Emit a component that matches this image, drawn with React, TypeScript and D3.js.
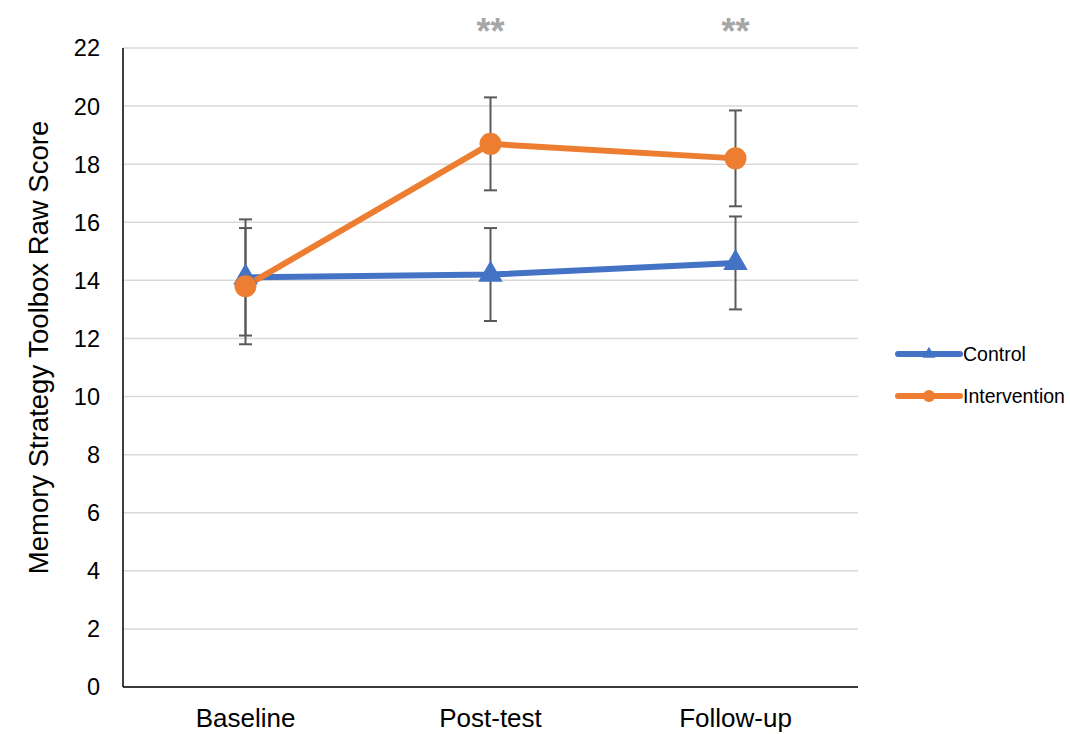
import React from 'react';
import * as d3 from 'd3';

const categories = ['Baseline', 'Post-test', 'Follow-up'];
const controlMeans = [14.1, 14.2, 14.6];
const controlErr = [2.0, 1.6, 1.6];
const interventionMeans = [13.8, 18.7, 18.2];
const interventionErr = [2.0, 1.6, 1.65];
const yTicks = [0, 2, 4, 6, 8, 10, 12, 14, 16, 18, 20, 22];
const significance = ['', '**', '**'];

const W = 1070;
const H = 734;
const margin = { top: 48, right: 212, bottom: 47, left: 123 };
const FONT = '"Liberation Sans", Arial, sans-serif';

const series = [
  { name: 'Control', means: controlMeans, err: controlErr, color: '#4472c4', marker: 'triangle' },
  { name: 'Intervention', means: interventionMeans, err: interventionErr, color: '#ed7d31', marker: 'circle' },
];

export default function App() {
  const x = d3.scaleBand().domain(categories).range([margin.left, W - margin.right]);
  const y = d3.scaleLinear().domain([0, 22]).range([H - margin.bottom, margin.top]);
  const cx = (c: string) => (x(c) as number) + x.bandwidth() / 2;

  const line = d3.line<number>()
    .x((_, i) => cx(categories[i]))
    .y(d => y(d));

  const tri = d3.symbol().type(d3.symbolTriangle).size(260);

  return (
    <svg width={W} height={H} style={{ position: 'absolute', left: 0, top: 0, background: '#fff' }}>
      {/* gridlines */}
      {yTicks.map(t => (
        <line key={t} x1={margin.left} x2={W - margin.right} y1={y(t)} y2={y(t)}
              stroke="#d9d9d9" strokeWidth={1.5} />
      ))}
      {/* axes */}
      <line x1={margin.left} x2={margin.left} y1={y(22)} y2={y(0)} stroke="#000" strokeWidth={1.5} />
      <line x1={margin.left} x2={W - margin.right} y1={y(0)} y2={y(0)} stroke="#000" strokeWidth={1.5} />
      {yTicks.map(t => (
        <text key={t} x={100} y={y(t)} dy="0.36em" textAnchor="end"
              fontFamily={FONT} fontSize={23.5} fill="#000">{t}</text>
      ))}
      {categories.map(c => (
        <text key={c} x={cx(c)} y={727} textAnchor="middle"
              fontFamily={FONT} fontSize={26} fill="#000">{c}</text>
      ))}
      <text transform={`translate(48,${(y(0) + y(22)) / 2 - 20}) rotate(-90)`} textAnchor="middle"
            fontFamily={FONT} fontSize={27.5} fill="#000">Memory Strategy Toolbox Raw Score</text>

      {/* significance */}
      {categories.map((c, i) => significance[i] ? (
        <text key={c} x={cx(c)} y={44} textAnchor="middle" fontFamily={FONT}
              fontSize={36} fontWeight="bold" fill="#a6a6a6">{significance[i]}</text>
      ) : null)}

      {/* lines */}
      {series.map(s => (
        <path key={s.name} d={line(s.means) as string} fill="none" stroke={s.color}
              strokeWidth={6} strokeLinejoin="round" />
      ))}
      {/* error bars */}
      {series.map(s => s.means.map((m, i) => {
        const px = cx(categories[i]);
        const hi = y(m + s.err[i]);
        const lo = y(m - s.err[i]);
        return (
          <g key={s.name + i} stroke="#595959" strokeWidth={2}>
            <line x1={px} x2={px} y1={hi} y2={lo} />
            <line x1={px - 6.5} x2={px + 6.5} y1={hi} y2={hi} />
            <line x1={px - 6.5} x2={px + 6.5} y1={lo} y2={lo} />
          </g>
        );
      }))}
      {/* markers */}
      {series.map(s => s.means.map((m, i) => {
        const px = cx(categories[i]);
        return s.marker === 'circle'
          ? <circle key={s.name + i} cx={px} cy={y(m)} r={11} fill={s.color} />
          : <path key={s.name + i} d={tri() as string} transform={`translate(${px},${y(m)})`} fill={s.color} />;
      }))}

      {/* legend */}
      {series.map((s, i) => {
        const ly = 354 + i * 42;
        return (
          <g key={s.name}>
            <line x1={898} x2={960} y1={ly} y2={ly} stroke={s.color} strokeWidth={6} strokeLinecap="round" />
            {s.marker === 'circle'
              ? <circle cx={929} cy={ly} r={6} fill={s.color} />
              : <path d={d3.symbol().type(d3.symbolTriangle).size(70)() as string}
                      transform={`translate(929,${ly})`} fill={s.color} />}
            <text x={963} y={ly} dy="0.36em" fontFamily={FONT} fontSize={19.5} fill="#000">{s.name}</text>
          </g>
        );
      })}
    </svg>
  );
}
